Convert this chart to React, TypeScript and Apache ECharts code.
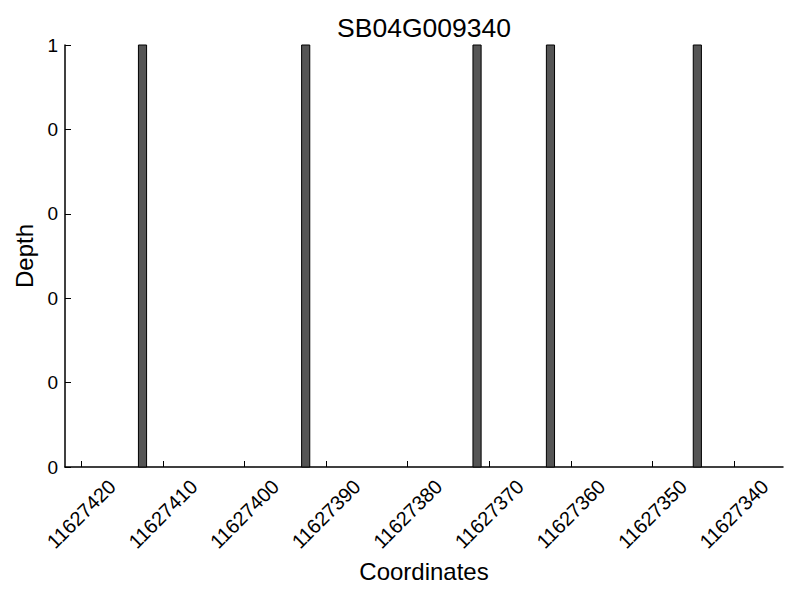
import React, { useEffect, useRef } from "react";
import * as echarts from "echarts";

const titleText = "SB04G009340";
// left edge of each 1-unit-wide bar (in coordinate units)
const barCoordinates = [11627412, 11627392, 11627371, 11627362, 11627344];
const barDepths = [1, 1, 1, 1, 1];
const xTickValues = [11627420, 11627410, 11627400, 11627390, 11627380, 11627370, 11627360, 11627350, 11627340];
const xMin = 11627334;
const xMax = 11627422;

const FONT = "'Liberation Sans', Arial, Helvetica, sans-serif";

export default function App() {
  const ref = useRef<HTMLDivElement>(null);
  useEffect(() => {
    if (!ref.current) return;
    const chart = echarts.init(ref.current, undefined, { renderer: "svg" });
    const data = barCoordinates.map((c, i) => [c, c + 1, barDepths[i]]);
    chart.setOption({
      animation: false,
      backgroundColor: "#ffffff",
      textStyle: { fontFamily: FONT },
      grid: {
        left: 65,
        right: 17,
        top: 45,
        bottom: 133,
        containLabel: false,
        outerBoundsMode: "none",
      },
      graphic: [
        {
          type: "text",
          x: 424,
          y: 28,
          style: {
            text: titleText,
            fill: "#000",
            font: `26.5px ${FONT}`,
            textAlign: "center",
            textVerticalAlign: "middle",
          },
        },
      ],
      xAxis: {
        type: "value",
        min: xMin,
        max: xMax,
        inverse: true,
        name: "Coordinates",
        nameLocation: "middle",
        nameGap: 89,
        nameTextStyle: { fontSize: 24, color: "#000", fontFamily: FONT },
        splitLine: { show: false },
        axisLine: { show: true, onZero: false, lineStyle: { color: "#000", width: 1.5 } },
        axisTick: {
          show: true,
          inside: true,
          length: 6,
          customValues: xTickValues,
          lineStyle: { color: "#000", width: 1 },
        },
        axisLabel: {
          show: true,
          customValues: xTickValues,
          rotate: 45,
          margin: 47,
          align: "center",
          verticalAlign: "middle",
          fontSize: 20,
          color: "#000",
          fontFamily: FONT,
          formatter: (v: number) => String(Math.round(v)),
        },
      },
      yAxis: {
        type: "value",
        min: 0,
        max: 1,
        interval: 0.2,
        name: "Depth",
        nameLocation: "middle",
        nameGap: 26,
        nameRotate: 90,
        nameTextStyle: { fontSize: 24, color: "#000", fontFamily: FONT },
        splitLine: { show: false },
        axisLine: { show: true, lineStyle: { color: "#000", width: 1.5 } },
        axisTick: { show: true, inside: true, length: 6, lineStyle: { color: "#000", width: 1 } },
        axisLabel: {
          margin: 7,
          fontSize: 19,
          color: "#000",
          fontFamily: FONT,
          formatter: (v: number) => String(Math.floor(v + 1e-9)),
        },
      },
      series: [
        {
          type: "custom",
          data,
          encode: { x: [0, 1], y: 2 },
          renderItem: (params: any, api: any) => {
            const p1 = api.coord([api.value(0), api.value(2)]);
            const p2 = api.coord([api.value(1), 0]);
            const x = Math.min(p1[0], p2[0]);
            const w = Math.abs(p2[0] - p1[0]);
            return {
              type: "rect",
              shape: { x, y: p1[1], width: w, height: p2[1] - p1[1] },
              style: { fill: "#555555", stroke: "#000000", lineWidth: 1 },
            };
          },
        },
      ],
    });
    return () => chart.dispose();
  }, []);
  return (
    <div
      ref={ref}
      style={{ position: "fixed", left: 0, top: 0, width: 800, height: 600 }}
    />
  );
}
